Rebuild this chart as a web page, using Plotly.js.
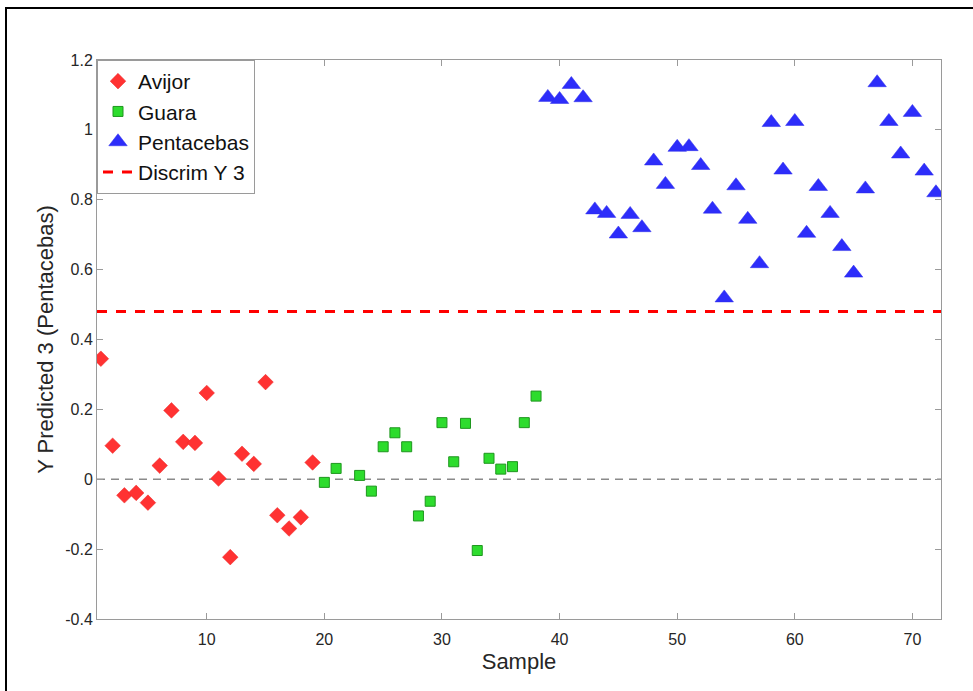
<!DOCTYPE html>
<html>
<head>
<meta charset="utf-8">
<script src="https://cdn.plot.ly/plotly-3.0.1.min.js"></script>
<style>html,body{margin:0;padding:0;background:#fff;}#chart{width:973px;height:691px;}</style>
</head>
<body>
<div id="chart"></div>
<script>
// ---- data ----
const avijorX = [1,2,3,4,5,6,7,8,9,10,11,12,13,14,15,16,17,18,19];
const avijorY = [0.345,0.096,-0.046,-0.039,-0.067,0.039,0.197,0.107,0.104,0.247,0.002,-0.223,0.073,0.044,0.278,-0.103,-0.141,-0.109,0.048];

const guaraX = [20,21,23,24,25,26,27,28,29,30,31,32,33,34,35,36,37,38];
const guaraY = [-0.009,0.031,0.011,-0.034,0.093,0.133,0.093,-0.105,-0.063,0.162,0.050,0.160,-0.204,0.060,0.029,0.036,0.162,0.238];

const pentaX = [39,40,41,42,43,44,45,46,47,48,49,50,51,52,53,54,55,56,57,58,59,60,61,62,63,64,65,66,67,68,69,70,71,72];
const pentaY = [1.093,1.087,1.130,1.092,0.771,0.761,0.702,0.758,0.720,0.911,0.844,0.950,0.952,0.898,0.773,0.519,0.840,0.744,0.617,1.021,0.885,1.024,0.704,0.838,0.761,0.666,0.590,0.831,1.135,1.024,0.931,1.050,0.882,0.820];

const discrimY = 0.48;
const xRange = [0.67, 72.43];
const yRange = [-0.4, 1.2];
const xTicks = [10,20,30,40,50,60,70];
const yTicks = [-0.4,-0.2,0,0.2,0.4,0.6,0.8,1,1.2];
const yTickText = ["-0.4","-0.2","0","0.2","0.4","0.6","0.8","1","1.2"];

const font = "Liberation Sans, Arial, sans-serif";

const traces = [
  {x: avijorX, y: avijorY, name: "Avijor", type: "scatter", mode: "markers",
   marker: {symbol: "diamond", size: 12, color: "rgb(255,50,50)", line: {color: "rgb(235,40,40)", width: 0.5}}},
  {x: guaraX, y: guaraY, name: "Guara", type: "scatter", mode: "markers",
   marker: {symbol: "square", size: 10, color: "rgb(45,220,45)", line: {color: "rgb(30,150,30)", width: 1}}},
  {x: pentaX, y: pentaY, name: "Pentacebas", type: "scatter", mode: "markers",
   marker: {symbol: "triangle-up", size: 16, color: "rgb(45,45,250)", line: {color: "rgb(45,45,235)", width: 0.5}}},
  {x: xRange, y: [discrimY, discrimY], name: "Discrim Y 3", type: "scatter", mode: "lines",
   line: {color: "rgb(255,0,0)", width: 3, dash: "10px,9px"}}
];

const layout = {
  width: 973, height: 691,
  margin: {l: 97, r: 32, t: 60, b: 71.5},
  paper_bgcolor: "#fff", plot_bgcolor: "#fff",
  font: {family: font, color: "#262626", size: 16},
  showlegend: true,
  legend: {x: 0, y: 1, xanchor: "left", yanchor: "top", bgcolor: "#fff",
           bordercolor: "#9a9a9a", borderwidth: 1, font: {family: font, size: 21, color: "#111"},
           tracegroupgap: 0},
  xaxis: {range: xRange, tickvals: xTicks, ticks: "inside", ticklen: 6, tickcolor: "#9a9a9a",
          showline: true, linecolor: "#9a9a9a", linewidth: 1, mirror: "ticks",
          showgrid: false, zeroline: false, tickfont: {size: 16, color: "#262626"},
          ticklabelstandoff: 6,
          title: {text: "Sample", font: {size: 22, color: "#262626"}, standoff: 6}},
  yaxis: {range: yRange, tickvals: yTicks, ticktext: yTickText, ticks: "inside", ticklen: 6, tickcolor: "#9a9a9a",
          showline: true, linecolor: "#9a9a9a", linewidth: 1, mirror: "ticks",
          showgrid: false, zeroline: false, tickfont: {size: 16, color: "#262626"},
          title: {text: "Y Predicted 3 (Pentacebas)", font: {size: 22, color: "#262626"}, standoff: 5}},
  shapes: [
    {type: "line", xref: "paper", yref: "y", x0: 0, x1: 1, y0: 0, y1: 0, layer: "below",
     line: {color: "#8a8a8a", width: 1.5, dash: "8px,6px"}},
    {type: "rect", xref: "paper", yref: "paper", x0: (6-97)/844, x1: 1.2, y0: -0.3, y1: 1 + (60-8)/559.5,
     line: {color: "#000", width: 2}, fillcolor: "rgba(0,0,0,0)"}
  ]
};

Plotly.newPlot("chart", traces, layout, {displayModeBar: false, staticPlot: true});
</script>
</body>
</html>
